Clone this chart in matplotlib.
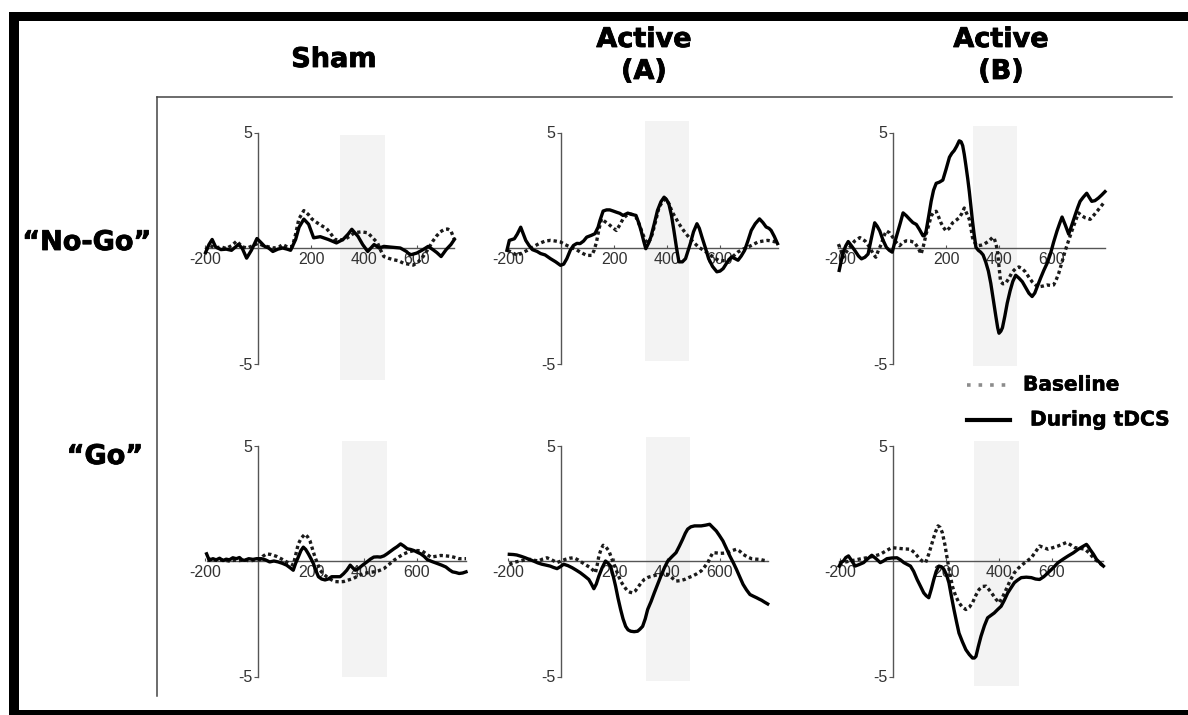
import matplotlib
matplotlib.use("Agg")
import matplotlib.pyplot as plt
from matplotlib.patches import Rectangle
from matplotlib.lines import Line2D
import matplotlib.patheffects as pe

# ---------------------------------------------------------------------------
# ERP waveforms (time in ms, amplitude in uV), one list of (t, v) per trace
# ---------------------------------------------------------------------------
sham_nogo_base = [(-198,-0.07),(-180,0.1),(-160,0.0),(-140,0.05),(-120,-0.02),(-100,0.1),(-80,0.3),(-60,0.05),(-40,0.0),(-20,0.1),(0,0.2),(20,0.1),(40,0.05),(60,0.0),(80,0.05),(93,0.15),(110,0.05),(130,0.07),(142,0.6),(154,1.25),(173,1.62),(190,1.45),(204,1.25),(222,1.1),(241,0.96),(258,0.85),(272,0.66),(290,0.37),(308,0.35),(327,0.37),(345,0.5),(364,0.66),(390,0.7),(414,0.66),(432,0.45),(451,0.22),(463,-0.1),(475,-0.37),(494,-0.45),(512,-0.51),(530,-0.55),(549,-0.66),(568,-0.7),(586,-0.74),(605,-0.6),(623,-0.37),(636,-0.15),(648,0.07),(660,0.3),(673,0.51),(688,0.7),(704,0.81),(716,0.82),(728,0.74),(741,0.37)]
sham_nogo_tdcs = [(-198,-0.2),(-185,0.15),(-173,0.37),(-160,0.05),(-140,-0.07),(-120,-0.05),(-100,-0.1),(-74,0.15),(-60,0.0),(-43,-0.44),(-25,-0.1),(-4,0.41),(10,0.25),(25,0.07),(40,0.0),(56,-0.15),(75,-0.05),(93,0.0),(110,-0.05),(123,-0.1),(142,0.37),(155,0.9),(173,1.25),(191,1.03),(210,0.44),(235,0.49),(265,0.37),(296,0.22),(321,0.37),(340,0.6),(354,0.81),(377,0.51),(395,0.15),(414,-0.15),(438,0.15),(457,0.0),(475,0.07),(500,0.04),(537,0.0),(560,-0.15),(574,-0.3),(599,-0.22),(623,-0.07),(642,0.07),(660,-0.07),(675,-0.2),(691,-0.37),(710,-0.07),(728,0.15),(741,0.37)]

actA_nogo_base = [(-201,-0.1),(-185,-0.2),(-164,-0.32),(-145,-0.2),(-127,-0.1),(-105,0.05),(-83,0.19),(-60,0.3),(-40,0.33),(-20,0.3),(-2,0.26),(15,0.15),(35,0.04),(55,-0.05),(72,-0.17),(85,-0.25),(97,-0.32),(116,-0.32),(125,-0.1),(134,0.26),(143,0.8),(153,1.26),(165,1.15),(178,1.05),(193,0.9),(209,0.76),(222,1.0),(234,1.26),(246,1.4),(258,1.48),(270,1.45),(283,1.34),(296,1.0),(308,0.62),(318,0.35),(327,0.19),(336,0.35),(345,0.62),(358,1.2),(370,1.77),(383,2.0),(395,2.13),(408,1.9),(420,1.55),(433,1.3),(445,1.05),(463,0.75),(482,0.47),(500,0.25),(519,0.04),(538,-0.1),(557,-0.24),(575,-0.4),(594,-0.53),(612,-0.55),(631,-0.53),(650,-0.35),(668,-0.17),(687,-0.05),(706,0.04),(725,0.15),(743,0.26),(762,0.3),(780,0.33),(795,0.3),(811,0.26)]
actA_nogo_tdcs = [(-204,-0.1),(-195,0.33),(-176,0.4),(-165,0.6),(-152,0.9),(-133,0.33),(-120,0.1),(-108,-0.07),(-90,-0.15),(-77,-0.24),(-60,-0.3),(-40,-0.46),(-20,-0.6),(-2,-0.75),(10,-0.7),(22,-0.46),(35,-0.1),(47,0.11),(60,0.2),(72,0.19),(85,0.3),(97,0.47),(115,0.55),(128,0.62),(140,0.9),(147,1.19),(159,1.6),(172,1.65),(184,1.65),(197,1.6),(209,1.55),(222,1.5),(234,1.41),(252,1.51),(268,1.45),(283,1.41),(293,1.1),(302,0.76),(312,0.3),(320,-0.03),(330,0.2),(339,0.47),(352,1.05),(364,1.62),(377,2.0),(389,2.2),(398,2.1),(407,1.91),(417,1.4),(426,0.76),(436,0.0),(445,-0.6),(458,-0.6),(470,-0.46),(480,-0.1),(488,0.19),(500,0.7),(513,1.05),(522,0.85),(532,0.47),(545,0.0),(557,-0.46),(572,-0.8),(588,-1.03),(600,-1.0),(612,-0.89),(628,-0.6),(643,-0.39),(655,-0.45),(668,-0.53),(680,-0.35),(693,-0.1),(705,0.3),(718,0.76),(733,1.05),(749,1.26),(762,1.1),(774,0.91),(785,0.85),(793,0.76),(805,0.5),(817,0.19)]

actB_nogo_base = [(-206,0.17),(-197,-0.1),(-188,-0.4),(-175,-0.15),(-163,0.03),(-145,0.3),(-125,0.45),(-105,0.3),(-88,0.03),(-75,-0.25),(-65,-0.4),(-55,-0.1),(-44,0.17),(-35,0.5),(-25,0.74),(-12,0.65),(0,0.45),(12,0.25),(25,0.1),(38,0.25),(50,0.31),(65,0.3),(81,0.24),(95,0.0),(106,-0.26),(115,0.1),(125,0.6),(135,1.0),(144,1.38),(153,1.55),(163,1.59),(172,1.35),(181,1.09),(190,0.9),(200,0.74),(212,0.85),(225,1.09),(238,1.2),(250,1.31),(260,1.5),(269,1.73),(278,1.5),(288,1.24),(295,0.8),(300,0.45),(310,0.2),(319,0.1),(332,0.12),(344,0.17),(362,0.3),(375,0.45),(381,0.45),(388,0.2),(394,-0.11),(400,-0.8),(406,-1.46),(415,-1.55),(425,-1.53),(438,-1.3),(450,-1.04),(462,-0.9),(475,-0.82),(488,-0.9),(500,-1.04),(512,-1.25),(525,-1.46),(538,-1.6),(550,-1.68),(565,-1.65),(581,-1.6),(594,-1.62),(606,-1.6),(615,-1.4),(625,-1.11),(638,-0.6),(650,-0.11),(662,0.3),(675,0.74),(688,1.15),(700,1.52),(712,1.4),(725,1.31),(735,1.28),(744,1.24),(760,1.45),(775,1.66),(788,1.85),(800,2.02)]
actB_nogo_tdcs = [(-203,-0.97),(-196,-0.6),(-188,-0.18),(-178,0.1),(-169,0.28),(-157,0.1),(-144,-0.11),(-130,-0.35),(-119,-0.47),(-106,-0.4),(-94,-0.26),(-82,0.4),(-69,1.09),(-60,0.95),(-50,0.74),(-38,0.35),(-25,0.03),(-14,-0.1),(-3,-0.18),(8,0.3),(19,0.74),(28,1.1),(38,1.52),(50,1.4),(63,1.24),(75,1.1),(88,1.02),(100,0.8),(113,0.53),(120,0.55),(125,0.74),(135,1.4),(144,2.02),(153,2.5),(163,2.8),(175,2.85),(188,2.94),(200,3.4),(213,3.93),(222,4.1),(231,4.22),(240,4.4),(250,4.64),(257,4.6),(263,4.43),(269,4.05),(275,3.58),(282,3.0),(288,2.44),(294,1.8),(300,1.16),(306,0.6),(313,0.03),(322,-0.1),(331,-0.18),(340,-0.3),(350,-0.61),(360,-1.0),(369,-1.53),(378,-2.2),(388,-2.95),(395,-3.45),(400,-3.69),(407,-3.6),(413,-3.45),(422,-2.95),(431,-2.39),(442,-1.85),(452,-1.45),(463,-1.18),(475,-1.3),(488,-1.46),(500,-1.7),(513,-1.96),(525,-2.1),(535,-1.95),(544,-1.68),(557,-1.3),(569,-0.97),(582,-0.65),(594,-0.26),(606,0.25),(619,0.74),(630,1.1),(638,1.34),(650,1.0),(663,0.6),(675,1.0),(688,1.45),(697,1.75),(706,2.02),(718,2.2),(731,2.37),(740,2.2),(750,2.02),(762,2.05),(775,2.16),(788,2.3),(800,2.44)]

sham_go_base = [(-190,0.1),(-170,0.05),(-150,0.02),(-130,0.05),(-110,0.0),(-90,0.03),(-70,0.02),(-50,0.05),(-30,0.0),(-10,0.05),(6,0.05),(18,0.2),(32,0.31),(50,0.28),(70,0.2),(90,0.08),(108,-0.04),(120,-0.1),(133,-0.18),(143,0.3),(152,0.74),(164,1.0),(177,1.16),(187,1.05),(196,0.88),(206,0.5),(215,0.17),(225,-0.12),(234,-0.4),(246,-0.55),(259,-0.68),(275,-0.8),(291,-0.89),(307,-0.9),(323,-0.89),(342,-0.82),(361,-0.75),(380,-0.63),(399,-0.54),(418,-0.5),(437,-0.47),(456,-0.42),(475,-0.33),(494,-0.15),(513,0.03),(532,0.18),(551,0.31),(570,0.4),(589,0.45),(605,0.45),(620,0.43),(636,0.3),(652,0.17),(670,0.2),(690,0.24),(710,0.22),(728,0.2),(744,0.15),(759,0.1),(772,0.1),(785,0.1)]
sham_go_tdcs = [(-194,0.31),(-184,0.03),(-170,0.1),(-158,0.05),(-145,0.12),(-132,0.02),(-120,0.08),(-108,0.05),(-95,0.14),(-82,0.1),(-70,0.15),(-60,0.05),(-51,0.03),(-35,0.1),(-19,0.07),(-5,0.1),(13,0.1),(28,0.05),(44,-0.04),(60,0.0),(76,-0.04),(92,-0.1),(108,-0.18),(122,-0.3),(133,-0.4),(142,-0.1),(152,0.17),(162,0.45),(171,0.6),(180,0.5),(190,0.31),(200,0.1),(209,-0.11),(218,-0.4),(228,-0.68),(240,-0.78),(253,-0.82),(265,-0.78),(278,-0.68),(295,-0.68),(310,-0.68),(323,-0.55),(335,-0.4),(348,-0.18),(358,-0.3),(367,-0.4),(376,-0.35),(386,-0.26),(398,-0.15),(411,-0.04),(424,0.08),(437,0.17),(450,0.18),(462,0.17),(475,0.22),(487,0.31),(500,0.42),(513,0.53),(525,0.62),(538,0.74),(550,0.65),(563,0.53),(576,0.5),(589,0.45),(601,0.38),(614,0.31),(627,0.2),(639,0.06),(658,-0.03),(677,-0.11),(693,-0.18),(709,-0.26),(722,-0.38),(734,-0.47),(747,-0.5),(759,-0.54),(772,-0.52),(785,-0.47)]

actA_go_base = [(-195,-0.14),(-175,-0.05),(-154,0.0),(-135,0.05),(-116,0.07),(-100,0.03),(-85,0.0),(-70,0.08),(-53,0.14),(-35,0.05),(-15,-0.07),(0,0.0),(16,0.07),(32,0.12),(48,0.14),(64,0.05),(80,-0.07),(95,-0.18),(111,-0.29),(121,-0.4),(130,-0.51),(137,-0.15),(143,0.22),(151,0.5),(159,0.68),(170,0.6),(181,0.43),(190,0.15),(200,-0.14),(212,-0.5),(225,-0.87),(238,-1.1),(251,-1.3),(260,-1.35),(270,-1.38),(280,-1.3),(289,-1.16),(302,-0.95),(314,-0.8),(330,-0.7),(346,-0.65),(362,-0.6),(377,-0.58),(390,-0.57),(403,-0.58),(418,-0.72),(434,-0.87),(450,-0.85),(466,-0.8),(481,-0.72),(497,-0.65),(513,-0.55),(529,-0.43),(542,-0.25),(554,-0.07),(563,0.15),(573,0.36),(586,0.35),(599,0.33),(615,0.34),(630,0.36),(646,0.45),(662,0.51),(675,0.42),(687,0.29),(703,0.18),(719,0.1),(735,0.08),(751,0.07),(765,0.03),(780,0.0)]
actA_go_tdcs = [(-195,0.29),(-180,0.28),(-167,0.26),(-150,0.2),(-135,0.14),(-120,0.07),(-104,0.0),(-88,-0.08),(-72,-0.14),(-56,-0.18),(-41,-0.22),(-28,-0.28),(-15,-0.33),(-3,-0.25),(10,-0.14),(26,-0.2),(42,-0.29),(58,-0.4),(73,-0.51),(89,-0.65),(105,-0.8),(115,-1.0),(124,-1.2),(133,-1.0),(143,-0.65),(155,-0.3),(168,0.0),(178,-0.1),(187,-0.22),(196,-0.6),(206,-1.09),(215,-1.6),(225,-2.1),(234,-2.5),(244,-2.83),(253,-2.98),(263,-3.04),(276,-3.06),(289,-3.04),(298,-2.95),(308,-2.83),(318,-2.5),(327,-2.1),(340,-1.75),(352,-1.38),(365,-1.0),(377,-0.65),(390,-0.3),(403,0.0),(418,0.18),(434,0.36),(447,0.65),(459,0.94),(469,1.2),(478,1.38),(490,1.48),(504,1.52),(516,1.52),(529,1.52),(545,1.55),(561,1.59),(573,1.45),(586,1.3),(598,1.1),(611,0.87),(624,0.55),(637,0.22),(650,-0.07),(662,-0.36),(675,-0.7),(687,-1.01),(700,-1.25),(713,-1.45),(725,-1.52),(738,-1.59),(748,-1.65),(757,-1.7),(768,-1.78),(780,-1.86)]

actB_go_base = [(-203,-0.14),(-182,-0.05),(-162,0.0),(-140,0.05),(-120,0.1),(-99,0.14),(-75,0.2),(-48,0.29),(-25,0.45),(-4,0.58),(12,0.56),(28,0.54),(47,0.52),(66,0.51),(82,0.35),(97,0.14),(110,0.0),(123,-0.07),(135,0.3),(148,0.8),(160,1.25),(170,1.52),(178,1.45),(186,1.23),(196,0.7),(205,0.07),(214,-0.5),(224,-1.09),(236,-1.5),(249,-1.81),(262,-2.0),(275,-2.1),(288,-2.0),(300,-1.81),(312,-1.5),(325,-1.23),(338,-1.1),(351,-1.09),(363,-1.25),(376,-1.45),(388,-1.65),(401,-1.81),(414,-1.55),(427,-1.23),(442,-0.85),(458,-0.51),(474,-0.3),(490,-0.14),(506,0.0),(522,0.14),(538,0.4),(553,0.65),(569,0.58),(585,0.51),(604,0.58),(623,0.65),(638,0.72),(654,0.8),(670,0.7),(686,0.58),(705,0.55),(724,0.51),(740,0.35),(756,0.14),(775,-0.05),(794,-0.22)]
actB_go_tdcs = [(-203,-0.22),(-195,-0.05),(-187,0.0),(-178,0.15),(-168,0.22),(-155,0.0),(-143,-0.22),(-127,-0.15),(-111,-0.07),(-95,0.1),(-80,0.25),(-64,0.1),(-48,-0.07),(-36,0.0),(-23,0.1),(-5,0.13),(15,0.14),(28,0.05),(41,-0.07),(54,-0.15),(66,-0.22),(78,-0.45),(91,-0.8),(104,-1.1),(116,-1.38),(125,-1.5),(135,-1.59),(145,-1.2),(154,-0.8),(163,-0.45),(173,-0.22),(183,-0.25),(192,-0.36),(202,-0.6),(211,-0.94),(220,-1.5),(230,-2.1),(240,-2.65),(249,-3.12),(262,-3.5),(275,-3.84),(288,-4.05),(300,-4.2),(307,-4.2),(313,-4.13),(322,-3.7),(332,-3.26),(345,-2.8),(357,-2.46),(370,-2.35),(382,-2.25),(395,-2.1),(408,-1.96),(420,-1.7),(433,-1.38),(446,-1.15),(458,-0.94),(471,-0.82),(484,-0.72),(503,-0.7),(522,-0.72),(538,-0.78),(553,-0.8),(569,-0.68),(585,-0.51),(604,-0.3),(623,-0.07),(642,0.08),(661,0.22),(680,0.35),(699,0.51),(715,0.62),(730,0.72),(737,0.62),(743,0.51),(756,0.3),(768,0.07),(781,-0.08),(794,-0.22)]

# Labels
conditions = ["Sham", "Active\n(A)", "Active\n(B)"]
trial_types = ["\u201cNo-Go\u201d", "\u201cGo\u201d"]
series_labels = ["Baseline", "During tDCS"]
x_ticks = [-200, 200, 400, 600]
y_ticks = [-5, 5]

# Analysis window shown as a grey band (ms start, ms end, uV bottom, uV top)
windows = [
    [(311, 478, -5.7, 4.9), (318, 484, -4.9, 5.5), (300, 469, -5.1, 5.3)],
    [(316, 487, -5.0, 5.2), (320, 485, -5.2, 5.35), (306, 477, -5.4, 5.2)],
]

traces = [
    [(sham_nogo_base, sham_nogo_tdcs), (actA_nogo_base, actA_nogo_tdcs), (actB_nogo_base, actB_nogo_tdcs)],
    [(sham_go_base, sham_go_tdcs), (actA_go_base, actA_go_tdcs), (actB_go_base, actB_go_tdcs)],
]

# ---------------------------------------------------------------------------
W, H = 1188, 715
fig = plt.figure(figsize=(W / 100, H / 100), dpi=100)
fig.patch.set_facecolor("white")

HEAVY = [pe.withStroke(linewidth=0.6, foreground="black")]
HEAD = dict(family="DejaVu Sans", fontweight="bold", color="black", path_effects=HEAVY)
TICKFONT = "Liberation Sans"

col_x0 = [258, 561, 893]     # pixel column of t = 0
row_y0 = [248, 561]          # pixel row of v = 0
SX, SY = 0.265, 23.1         # px per ms, px per uV
XL, YL = (-230, 830), (-6.3, 6.3)

DOT = (0, (1.0, 0.9))
AXC = "#555555"


def split(pts):
    return [p[0] for p in pts], [p[1] for p in pts]


for r in range(2):
    for c in range(3):
        x0, y0 = col_x0[c], row_y0[r]
        left = x0 + XL[0] * SX
        right = x0 + XL[1] * SX
        top = y0 - YL[1] * SY
        bottom = y0 - YL[0] * SY
        ax = fig.add_axes([left / W, 1 - bottom / H, (right - left) / W, (bottom - top) / H])
        ax.set_xlim(*XL)
        ax.set_ylim(*YL)
        ax.patch.set_alpha(0)

        s0, s1, b0, b1 = windows[r][c]
        ax.add_patch(Rectangle((s0, b0), s1 - s0, b1 - b0, facecolor="#f3f3f3",
                               edgecolor="none", zorder=0))

        base, tdcs = traces[r][c]
        tb, vb = split(base)
        tt, vt = split(tdcs)
        ax.plot(tb, vb, color="#1a1a1a", lw=2.4, linestyle=DOT, zorder=3,
                dash_capstyle="butt")
        ax.plot(tt, vt, color="black", lw=2.4, zorder=4, solid_joinstyle="round")

        for side in ("top", "right"):
            ax.spines[side].set_visible(False)
        ax.spines["left"].set_position(("data", 0))
        ax.spines["bottom"].set_position(("data", 0))
        ax.spines["left"].set_bounds(-5, 5)
        ax.spines["bottom"].set_bounds(min(tb[0], tt[0]), max(tb[-1], tt[-1]))
        for side in ("left", "bottom"):
            ax.spines[side].set_color(AXC)
            ax.spines[side].set_linewidth(1.0)
            ax.spines[side].set_zorder(2)

        ax.set_xticks(x_ticks)
        ax.set_xticklabels([str(v) for v in x_ticks], family=TICKFONT, fontsize=11.5,
                           color="#333333")
        ax.set_yticks(y_ticks)
        ax.set_yticklabels([str(v) for v in y_ticks], family=TICKFONT, fontsize=11.5,
                           color="#333333")
        ax.tick_params(axis="x", direction="in", length=2, width=0.8, color=AXC, pad=3)
        ax.tick_params(axis="y", direction="out", length=3, width=0.8, color=AXC, pad=1)


def fx(px):
    return px / W


def fy(py):
    return 1 - py / H


# Column headings
fig.text(fx(334), fy(60), conditions[0], ha="center", va="center", fontsize=19.5, **HEAD)
fig.text(fx(644), fy(56), conditions[1], ha="center", va="center", fontsize=19.5,
         linespacing=1.3, **HEAD)
fig.text(fx(1001), fy(56), conditions[2], ha="center", va="center", fontsize=19.5,
         linespacing=1.3, **HEAD)

# Row headings
fig.text(fx(87), fy(243), trial_types[0], ha="center", va="center", fontsize=19.5, **HEAD)
fig.text(fx(105), fy(457), trial_types[1], ha="center", va="center", fontsize=19.5, **HEAD)

# Legend
LEGHEAD = dict(HEAD, path_effects=[pe.withStroke(linewidth=0.4, foreground="black")])
fig.add_artist(Line2D([fx(967), fx(1010)], [fy(385), fy(385)], color="#8c8c8c", lw=2.6,
                      linestyle=(0, (1.0, 2.2))))
fig.text(fx(1023), fy(385), series_labels[0], ha="left", va="center", fontsize=14.5, **LEGHEAD)
fig.add_artist(Line2D([fx(967), fx(1010)], [fy(420), fy(420)], color="black", lw=3.0))
fig.text(fx(1030), fy(420), series_labels[1], ha="left", va="center", fontsize=14.5, **LEGHEAD)

# Grid frame lines between headings and panels
fig.add_artist(Line2D([fx(157), fx(1172)], [fy(97), fy(97)], color="#444444", lw=1.1))
fig.add_artist(Line2D([fx(157), fx(157)], [fy(97), fy(696)], color="#444444", lw=1.1))

# Heavy outer border
fig.add_artist(Rectangle((fx(9), fy(21)), fx(W - 9), 9 / H, facecolor="black",
                         edgecolor="none", transform=fig.transFigure))
fig.add_artist(Rectangle((fx(9), fy(H)), 10 / W, (H - 12) / H, facecolor="black",
                         edgecolor="none", transform=fig.transFigure))
fig.add_artist(Rectangle((fx(9), fy(H)), fx(W - 9), 5 / H, facecolor="black",
                         edgecolor="none", transform=fig.transFigure))

fig.savefig("out.png", dpi=100, facecolor="white")
